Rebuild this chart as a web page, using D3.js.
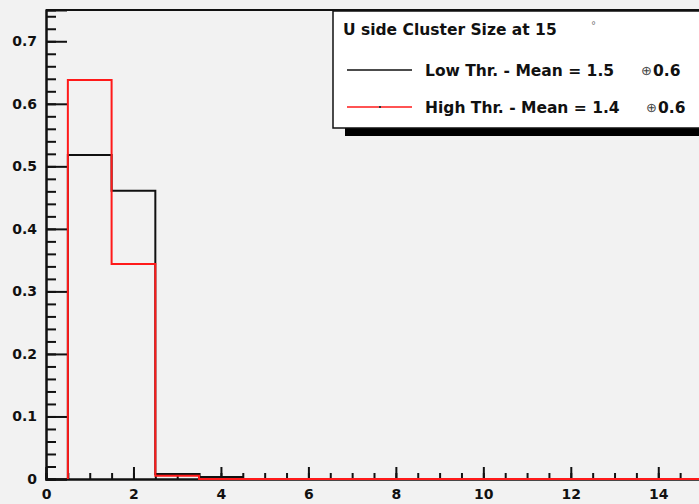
<!DOCTYPE html>
<meta charset="utf-8">
<style>
  body { margin: 0; background: #f2f2f2; }
  svg { display: block; }
  .axis text { font-family: "DejaVu Sans", sans-serif; font-weight: bold; font-size: 14px; fill: #111; }
  .axis path, .axis line { stroke: #111; stroke-width: 2; }
  .leg { font-family: "DejaVu Sans", sans-serif; font-weight: bold; font-size: 15.5px; fill: #111; }
</style>
<body>
<script src="https://cdn.jsdelivr.net/npm/d3@7"></script>
<script>

    // bin edges 0.5 .. 15.5, one bin per cluster size
    var binEdges = d3.range(0.5, 16, 1);
    var lowThr  = [0.518, 0.461, 0.008, 0.003, 0, 0, 0, 0, 0, 0, 0, 0, 0, 0, 0];
    var highThr = [0.638, 0.344, 0.005, 0, 0, 0, 0, 0, 0, 0, 0, 0, 0, 0, 0];

    var title = "U side Cluster Size at 15";
    var entries = [
        {label: "Low Thr. - Mean = 1.5", err: "0.6", color: "#111", errX: 641},
        {label: "High Thr. - Mean = 1.4", err: "0.6", color: "#ff1a1a", errX: 646}
    ];

    var w = 699, h = 504;
    var pLeft = 46, pTop = 10, pBottom = 479, pRight = 702;

    var svg = d3.select("body")
            .append("svg")
            .attr("width", w)
            .attr("height", h);

    var x = d3.scaleLinear().domain([0, 15]).range([pLeft, pRight]);
    var y = d3.scaleLinear().domain([0, 0.75]).range([pBottom, pTop]);

    // frame top line
    svg.append("line")
            .attr("x1", pLeft).attr("x2", pRight)
            .attr("y1", pTop).attr("y2", pTop)
            .attr("stroke", "#111").attr("stroke-width", 2);

    // y axis: major + minor ticks pointing inwards
    svg.append("g").attr("class", "axis")
            .attr("transform", "translate(" + pLeft + ",0)")
            .call(d3.axisLeft(y).tickValues(d3.range(0, 0.75, 0.1))
                .tickSize(-21).tickPadding(9)
                .tickFormat(function(d) { return d === 0 ? "0" : d3.format(".1f")(d); }));
    svg.append("g").attr("class", "axis")
            .attr("transform", "translate(" + pLeft + ",0)")
            .call(d3.axisLeft(y).tickValues(d3.range(0, 0.75, 0.02))
                .tickSize(-10).tickFormat(""));

    // x axis
    svg.append("g").attr("class", "axis")
            .attr("transform", "translate(0," + pBottom + ")")
            .call(d3.axisBottom(x).tickValues(d3.range(0, 15, 2))
                .tickSize(-12).tickPadding(10));
    svg.append("g").attr("class", "axis")
            .attr("transform", "translate(0," + pBottom + ")")
            .call(d3.axisBottom(x).tickValues(d3.range(0, 15.01, 0.5))
                .tickSize(-6).tickFormat(""));

    // step histogram outline
    function stepPath(vals) {
        var pts = [[binEdges[0], 0]];
        vals.forEach(function(v, i) {
            pts.push([binEdges[i], v]);
            pts.push([binEdges[i + 1], v]);
        });
        pts.push([binEdges[vals.length], 0]);
        return d3.line().x(function(d) { return x(d[0]); })
                        .y(function(d) { return y(d[1]); })(pts);
    }

    svg.append("clipPath").attr("id", "plot")
            .append("rect").attr("x", pLeft).attr("y", pTop)
            .attr("width", pRight - pLeft).attr("height", pBottom - pTop + 3);

    svg.append("path")
            .attr("d", stepPath(lowThr))
            .attr("clip-path", "url(#plot)")
            .attr("fill", "none").attr("stroke", "#111").attr("stroke-width", 2);
    svg.append("path")
            .attr("d", stepPath(highThr))
            .attr("clip-path", "url(#plot)")
            .attr("fill", "none").attr("stroke", "#ff1a1a").attr("stroke-width", 2);

    // legend with shadow
    var lx = 333, ly = 11, lw = 400, lh = 117;
    svg.append("rect")
            .attr("x", lx + 12).attr("y", ly + 8).attr("width", lw).attr("height", lh)
            .attr("fill", "#000");
    svg.append("rect")
            .attr("x", lx).attr("y", ly).attr("width", lw).attr("height", lh)
            .attr("fill", "#fff").attr("stroke", "#111").attr("stroke-width", 1.5);

    svg.append("text").attr("class", "leg")
            .attr("x", 343).attr("y", 35).text(title);
    svg.append("text")
            .attr("x", 591).attr("y", 29)
            .style("font-family", "DejaVu Sans").style("font-size", "10px")
            .attr("fill", "#777").text("°");

    entries.forEach(function(e, i) {
        var yy = 70 + i * 37;
        svg.append("line")
                .attr("x1", 347).attr("x2", 412).attr("y1", yy).attr("y2", yy)
                .attr("stroke", e.color).attr("stroke-width", 1.5);
        if (i === 1) {
            svg.append("rect").attr("x", 379).attr("y", yy - 1)
                    .attr("width", 2).attr("height", 2).attr("fill", "#333");
        }
        svg.append("text").attr("class", "leg")
                .attr("x", 425).attr("y", yy + 5.5).text(e.label);
        svg.append("text")
                .attr("x", e.errX).attr("y", yy + 5)
                .style("font-family", "DejaVu Sans").style("font-size", "13px")
                .attr("fill", "#444").text("⊕");
        svg.append("text").attr("class", "leg")
                .attr("x", e.errX + 12).attr("y", yy + 5.5).text(e.err);
    });

</script>
